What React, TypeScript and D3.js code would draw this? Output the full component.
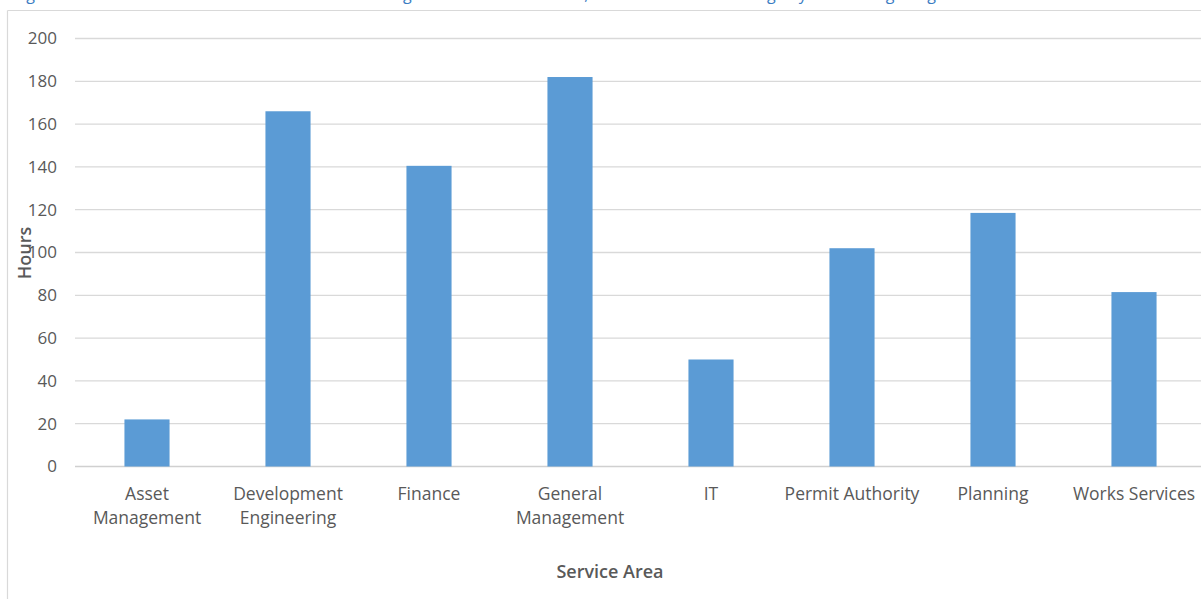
import React from "react";
import * as d3 from "d3";

const categories = [
  "Asset Management",
  "Development Engineering",
  "Finance",
  "General Management",
  "IT",
  "Permit Authority",
  "Planning",
  "Works Services",
];
const hours = [22, 166, 140.5, 182, 50, 102, 118.5, 81.5];
const tickLabels = [
  ["Asset", "Management"],
  ["Development", "Engineering"],
  ["Finance"],
  ["General", "Management"],
  ["IT"],
  ["Permit Authority"],
  ["Planning"],
  ["Works Services"],
];
const yTicks = [0, 20, 40, 60, 80, 100, 120, 140, 160, 180, 200];
const titleText =
  "Figure 3: Estimated Total Hours of Core Skills Training Delivered to Each Area, Shown as Annual Average by Role Rating Range";

const W = 1201;
const H = 599;
const FONT = "'Open Sans', 'Noto Sans', sans-serif";
const TEXT = "#595959";
const GRID = "#d9d9d9";
const BAR = "#5b9bd5";

export default function App() {
  const x = d3
    .scaleBand<string>()
    .domain(categories)
    .range([76.5, 1204.5])
    .paddingInner(0.68)
    .paddingOuter(0.34);
  const y = d3.scaleLinear().domain([0, 200]).range([466.5, 38.5]);

  return (
    <svg
      width={W}
      height={H}
      style={{ position: "absolute", left: 0, top: 0, background: "#fff" }}
      fontFamily={FONT}
    >
      <rect x={0} y={0} width={W} height={H} fill="#fff" />
      {/* caption above the chart, cut off by the top edge as in the reference */}
      <text x={14} y={-0.5} fill="#3a7cc2" fontSize={16} fontFamily={FONT}>
        {titleText}
      </text>
      {/* chart frame */}
      <line x1={7.5} x2={7.5} y1={10.5} y2={H} stroke={GRID} strokeWidth={1.2} />
      <line x1={7.5} x2={W} y1={10.5} y2={10.5} stroke={GRID} strokeWidth={1.2} />

      {/* gridlines */}
      {yTicks.map((t) => (
        <line
          key={"g" + t}
          x1={75}
          x2={1203}
          y1={y(t)}
          y2={y(t)}
          stroke={t === 0 ? "#d0d0d0" : GRID}
          strokeWidth={1.3}
        />
      ))}
      {/* y tick labels */}
      {yTicks.map((t) => (
        <text
          key={"t" + t}
          x={57}
          y={y(t)}
          dy="0.35em"
          textAnchor="end"
          fontSize={17}
          fill={TEXT}
        >
          {t}
        </text>
      ))}

      {/* bars */}
      {categories.map((c, i) => (
        <rect
          key={c}
          x={x(c)!}
          y={y(hours[i])}
          width={x.bandwidth()}
          height={y(0) - y(hours[i])}
          fill={BAR}
        />
      ))}

      {/* x tick labels */}
      {categories.map((c, i) => (
        <text
          key={"x" + c}
          x={x(c)! + x.bandwidth() / 2}
          textAnchor="middle"
          fontSize={17.5}
          fill={TEXT}
        >
          {tickLabels[i].map((line, j) => (
            <tspan key={j} x={x(c)! + x.bandwidth() / 2} y={500 + j * 24}>
              {line}
            </tspan>
          ))}
        </text>
      ))}

      {/* axis titles */}
      <text
        x={610}
        y={578}
        textAnchor="middle"
        fontSize={18}
        fontWeight={600}
        fill={TEXT}
      >
        Service Area
      </text>
      <text
        transform={`translate(31, 253) rotate(-90)`}
        textAnchor="middle"
        fontSize={18}
        fontWeight={600}
        fill={TEXT}
      >
        Hours
      </text>
    </svg>
  );
}
